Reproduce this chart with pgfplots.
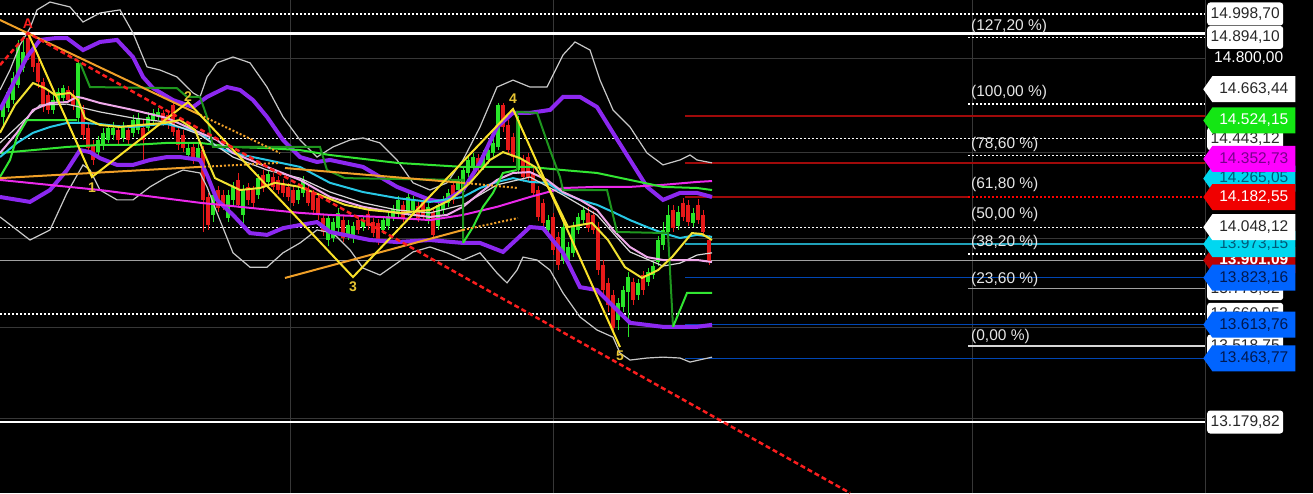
\documentclass[border=0pt]{standalone}
\usepackage{fontspec}
\setmainfont{Liberation Sans}
\usepackage{pgfplots}
\pgfplotsset{compat=1.18}
\usepackage{pgfplotstable}
\usetikzlibrary{shapes.symbols}

\definecolor{cpurple}{RGB}{140,40,240}
\definecolor{cband}{RGB}{200,200,200}
\definecolor{ccyan}{RGB}{40,200,230}
\definecolor{cpink}{RGB}{240,170,235}
\definecolor{clgray}{RGB}{215,215,215}
\definecolor{cmag}{RGB}{235,40,235}
\definecolor{clime}{RGB}{50,230,50}
\definecolor{cdkgreen}{RGB}{30,150,30}
\definecolor{cyel}{RGB}{240,225,50}
\definecolor{czig}{RGB}{250,225,40}
\definecolor{corange}{RGB}{240,160,40}
\definecolor{ctrend}{RGB}{250,30,30}
\definecolor{cgreen}{RGB}{40,230,40}
\definecolor{cred}{RGB}{230,25,25}
\definecolor{cdred}{RGB}{160,10,10}
\definecolor{cblue}{RGB}{0,70,180}
\definecolor{cgrid}{RGB}{55,55,55}
\definecolor{cgray}{RGB}{160,160,160}
\definecolor{cgold}{RGB}{230,195,50}
\definecolor{clbl}{RGB}{230,230,230}
\definecolor{bgreen}{RGB}{20,230,20}
\definecolor{bmag}{RGB}{255,0,255}
\definecolor{bmagtxt}{RGB}{120,0,140}
\definecolor{bcyan}{RGB}{0,215,240}
\definecolor{bcyantxt}{RGB}{0,90,120}
\definecolor{bred}{RGB}{240,0,0}
\definecolor{bdred}{RGB}{190,0,0}
\definecolor{bblue}{RGB}{0,100,255}
\definecolor{bbluetxt}{RGB}{0,25,80}
\definecolor{btxt}{RGB}{40,40,40}

% candles: x, body top, body bottom, wick top, wick bottom (prices)
\pgfplotstableread{
x bt bb wt wb
3 14593 14540 14615 14504
8 14651 14579 14668 14562
13 14713 14615 14740 14597
18 14861 14682 14883 14668
23 14829 14758 14900 14740
53 14615 14571 14638 14553
58 14651 14606 14668 14593
63 14668 14624 14682 14606
78 14781 14535 14794 14517
98 14437 14383 14455 14356
103 14469 14410 14490 14392
108 14490 14437 14508 14424
113 14490 14460 14517 14437
123 14490 14446 14517 14428
133 14526 14469 14549 14451
138 14535 14482 14558 14464
148 14540 14490 14562 14478
153 14558 14522 14575 14508
158 14562 14540 14579 14526
188 14401 14370 14424 14356
198 14401 14356 14419 14339
213 14192 14103 14214 14071
228 14192 14089 14214 14071
233 14228 14170 14250 14148
243 14214 14103 14237 14044
258 14267 14192 14285 14174
268 14285 14250 14303 14232
298 14214 14170 14232 14152
303 14259 14201 14276 14183
328 14089 13991 14107 13964
333 14071 14000 14089 13982
338 14112 14044 14134 14027
348 14058 14014 14080 13991
353 14053 14000 14071 13978
363 14080 14049 14098 14031
383 14080 14036 14098 14018
388 14098 14053 14116 14036
393 14130 14094 14148 14076
398 14170 14112 14188 14094
408 14183 14116 14201 14098
413 14170 14125 14188 14107
428 14139 14080 14157 14062
438 14148 14053 14170 14036
443 14170 14125 14188 14107
448 14201 14157 14219 14139
458 14259 14214 14276 14196
463 14303 14205 14321 14187
468 14348 14290 14365 14272
473 14361 14317 14379 14299
483 14370 14321 14392 14303
488 14392 14348 14410 14330
493 14424 14379 14446 14361
498 14593 14406 14602 14392
518 14526 14303 14544 14285
548 14080 14036 14103 14018
563 14049 13902 14071 13884
568 13960 13902 13982 13884
573 14049 13934 14071 13916
578 14094 14036 14112 14018
583 14125 14080 14143 14062
618 13711 13635 13732 13590
623 13768 13693 13786 13670
628 13826 13759 13848 13558
638 13800 13746 13817 13724
648 13848 13804 13866 13786
653 13875 13835 13893 13817
658 13991 13893 14009 13875
663 14036 13969 14071 13947
668 14103 14027 14148 14009
678 14116 14053 14143 14036
693 14112 14067 14134 14049
}\greencandles

\pgfplotstableread{
x bt bb wt wb
28 14891 14816 14914 14794
33 14838 14763 14861 14740
38 14781 14695 14802 14668
43 14695 14584 14713 14562
48 14638 14571 14660 14553
68 14660 14615 14677 14602
73 14638 14593 14660 14571
83 14571 14460 14593 14437
88 14490 14401 14517 14383
93 14415 14348 14437 14326
118 14482 14437 14499 14415
128 14482 14437 14499 14415
143 14490 14437 14526 14339
163 14558 14517 14571 14499
168 14549 14504 14567 14486
173 14593 14473 14615 14455
178 14482 14415 14499 14392
183 14460 14401 14482 14383
193 14406 14348 14424 14330
203 14392 14170 14410 14027
208 14183 14058 14201 14036
218 14214 14134 14232 14116
223 14192 14148 14214 14125
238 14259 14148 14290 14134
248 14228 14170 14246 14148
253 14214 14157 14232 14139
263 14281 14223 14303 14205
273 14272 14228 14290 14214
278 14259 14214 14276 14196
283 14246 14201 14263 14183
288 14228 14183 14246 14166
293 14214 14157 14232 14143
308 14214 14157 14232 14143
313 14201 14125 14214 14107
318 14178 14103 14201 14080
323 14089 14027 14107 14009
343 14080 14000 14103 13982
358 14080 14036 14098 14018
368 14107 14053 14125 14036
373 14071 14022 14089 14005
378 14067 13991 14085 13969
403 14148 14089 14166 14071
418 14143 14089 14161 14071
423 14170 14103 14188 14085
433 14116 14014 14134 14000
453 14237 14170 14254 14152
478 14356 14312 14374 14294
503 14593 14495 14602 14473
508 14504 14392 14526 14370
513 14451 14361 14469 14339
523 14348 14272 14370 14250
528 14361 14272 14379 14250
533 14290 14201 14312 14183
538 14214 14094 14232 14076
543 14157 14067 14174 14049
553 14094 13947 14112 13925
558 14005 13880 14027 13857
588 14112 14044 14139 14027
593 14103 14036 14121 14018
598 14049 13857 14071 13835
603 13880 13768 13902 13746
608 13800 13702 13822 13670
613 13746 13599 13768 13568
633 13804 13724 13822 13702
643 13835 13768 13853 13746
673 14125 14044 14148 14027
683 14157 14094 14178 14076
688 14148 14071 14170 14053
698 14148 14080 14174 14062
703 14103 14027 14125 14009
709 13991 13893 14014 13880
}\redcandles

\tikzset{
  lbl/.style={anchor=west, inner sep=0pt, font=\fontsize{15.5}{17}\selectfont, align=center},
  rbox/.style={lbl, fill=white, rounded corners=3pt, text=btxt, inner xsep=2pt, minimum width=76pt, minimum height=23pt},
  sbox/.style={lbl, shape=signal, signal to=west, signal pointer angle=110, minimum width=92pt, minimum height=26pt},
  wdot/.style={white, line width=1.4pt, dash pattern=on 2pt off 2pt},
}

\begin{document}
\begin{tikzpicture}[font=\fontsize{15.5}{17}\selectfont]
\begin{axis}[
  width=1313pt, height=493pt, scale only axis,
  xmin=0, xmax=1313, ymin=12863.3, ymax=15061.1,
  xtick=\empty, ytick=\empty,
  axis line style={draw=none},
  axis background/.style={fill=black},
  clip mode=individual,
]
% grid
\addplot[cgrid, line width=1pt] coordinates {(290,12863.3) (290,15061.1)};
\addplot[cgrid, line width=1pt] coordinates {(553,12863.3) (553,15061.1)};
\addplot[cgrid, line width=1pt] coordinates {(972,12863.3) (972,15061.1)};
\addplot[cgrid, line width=1pt] coordinates {(1205,12863.3) (1205,15061.1)};
\addplot[cgrid, line width=1pt] coordinates {(0,14800) (1205,14800)};
\addplot[cgrid, line width=1pt] coordinates {(0,14383) (1205,14383)};
\addplot[cgrid, line width=1pt] coordinates {(0,14000) (1205,14000)};
\addplot[cgrid, line width=1pt] coordinates {(0,13599) (1205,13599)};
\addplot[cgrid, line width=1pt] coordinates {(0,13197) (1205,13197)};
% horizontal levels
\addplot[wdot] coordinates {(0,14998.70) (1205,14998.70)};
\addplot[white, line width=3pt] coordinates {(0,14912) (1205,14912)};
\addplot[wdot] coordinates {(968,14894.10) (1205,14894.10)};
\addplot[wdot] coordinates {(968,14597) (1205,14597)};
\addplot[cdred, line width=1.5pt] coordinates {(685,14544) (1205,14544)};
\addplot[wdot] coordinates {(0,14443.12) (1205,14443.12)};
\addplot[wdot] coordinates {(968,14368) (1205,14368)};
\addplot[cdred, line width=1.5pt] coordinates {(685,14335) (1205,14335)};
\addplot[cdred, line width=1.5pt] coordinates {(685,14182.55) (968,14182.55)};
\addplot[red, line width=1.4pt, dash pattern=on 2pt off 2pt] coordinates {(968,14182.55) (1205,14182.55)};
\addplot[wdot] coordinates {(0,14048.12) (1205,14048.12)};
\addplot[ccyan!80!black, line width=1.5pt] coordinates {(685,13973.15) (1205,13973.15)};
\addplot[wdot] coordinates {(968,13929) (1205,13929)};
\addplot[cgray, line width=1.2pt] coordinates {(0,13901.09) (1205,13901.09)};
\addplot[cblue, line width=1.5pt] coordinates {(685,13823.16) (1205,13823.16)};
\addplot[cgray, line width=1.5pt] coordinates {(968,13773.92) (1205,13773.92)};
\addplot[wdot] coordinates {(0,13661) (1205,13661)};
\addplot[cblue, line width=1.5pt] coordinates {(685,13613.76) (1205,13613.76)};
\addplot[clgray, line width=1.5pt] coordinates {(968,13518.75) (1205,13518.75)};
\addplot[cblue, line width=1.5pt] coordinates {(685,13463.77) (1205,13463.77)};
\addplot[white, line width=1.2pt] coordinates {(0,13179.82) (1205,13179.82)};

% candles
\addplot[cgreen, line width=1pt, -, quiver={u=0, v=\thisrow{wb}-\thisrow{wt}}] table[x=x, y=wt] {\greencandles};
\addplot[cgreen, line width=4pt, -, quiver={u=0, v=\thisrow{bb}-\thisrow{bt}}] table[x=x, y=bt] {\greencandles};
\addplot[cred, line width=1pt, -, quiver={u=0, v=\thisrow{wb}-\thisrow{wt}}] table[x=x, y=wt] {\redcandles};
\addplot[cred, line width=4pt, -, quiver={u=0, v=\thisrow{bb}-\thisrow{bt}}] table[x=x, y=bt] {\redcandles};

% outer white bands
\addplot[cband, line width=1.2pt] coordinates {(0,14660) (10,14749) (20,14861) (30,14936) (37,15017) (50,15052) (70,15030) (83,14963) (100,15003) (120,15017) (133,14914) (147,14763) (160,14749) (177,14718) (193,14647) (200,14629) (207,14718) (217,14781) (233,14807) (250,14781) (267,14673) (283,14540) (300,14437) (317,14361) (333,14406) (350,14437) (363,14446) (380,14424) (397,14348) (413,14246) (430,14214) (447,14246) (463,14348) (480,14495) (497,14673) (513,14704) (530,14673) (547,14673) (563,14816) (575,14874) (590,14838) (600,14704) (613,14571) (630,14495) (647,14379) (663,14326) (680,14348) (690,14370) (697,14348) (712,14335)};
\addplot[cband, line width=1.2pt] coordinates {(0,14094) (30,13991) (50,14036) (67,14201) (83,14326) (90,14303) (100,14214) (117,14170) (133,14170) (150,14228) (167,14272) (183,14303) (200,14290) (207,14228) (217,14112) (233,13934) (250,13870) (267,13870) (283,13934) (300,13978) (317,14036) (333,14022) (350,13947) (363,13866) (380,13835) (397,13888) (413,13938) (430,13960) (447,13934) (463,13902) (480,13934) (497,13844) (507,13800) (517,13857) (523,13915) (537,13902) (550,13857) (563,13755) (580,13648) (597,13590) (613,13558) (620,13487) (630,13456) (647,13465) (663,13469) (680,13465) (690,13447) (712,13469)};
% purple bands
\addplot[cpurple, line width=4pt] coordinates {(0,14571) (15,14704) (27,14807) (40,14883) (55,14891) (67,14891) (83,14838) (100,14874) (117,14883) (133,14807) (143,14718) (153,14668) (173,14615) (193,14584) (207,14629) (227,14673) (240,14660) (253,14615) (267,14540) (283,14437) (300,14361) (317,14339) (330,14348) (363,14317) (397,14228) (430,14170) (443,14161) (463,14214) (480,14335) (497,14495) (513,14558) (530,14558) (550,14571) (563,14629) (580,14629) (597,14584) (613,14469) (630,14348) (647,14228) (663,14170) (680,14201) (697,14201) (712,14183)};
\addplot[cpurple, line width=4pt] coordinates {(0,14183) (30,14161) (50,14214) (67,14303) (80,14392) (90,14383) (100,14356) (117,14326) (133,14326) (150,14348) (167,14361) (180,14361) (200,14348) (207,14281) (217,14170) (233,14103) (250,14022) (267,14014) (283,14044) (300,14058) (317,14071) (330,14027) (370,13991) (397,13982) (430,13991) (463,13978) (480,13978) (503,13938) (530,14049) (543,14044) (563,13934) (580,13781) (597,13768) (617,13679) (630,13622) (663,13604) (697,13604) (712,13613)};
% long moving averages
\addplot[cmag, line width=2pt] coordinates {(0,14259) (100,14214) (200,14157) (300,14112) (330,14103) (380,14094) (430,14080) (463,14103) (497,14139) (530,14183) (563,14223) (597,14228) (630,14228) (663,14237) (697,14250) (712,14254)};
\addplot[clime, line width=2pt] coordinates {(0,14379) (33,14392) (67,14406) (100,14415) (133,14415) (167,14424) (200,14424) (233,14406) (267,14401) (300,14392) (330,14370) (397,14335) (463,14317) (530,14317) (563,14303) (597,14290) (630,14259) (663,14228) (697,14223) (712,14214)};
\addplot[ccyan, line width=2pt] coordinates {(0,14361) (17,14424) (33,14469) (50,14495) (67,14513) (83,14513) (100,14508) (117,14499) (133,14495) (150,14504) (167,14508) (183,14490) (200,14469) (217,14406) (233,14379) (267,14348) (300,14317) (330,14246) (363,14205) (397,14178) (430,14161) (463,14183) (480,14223) (497,14250) (513,14267) (530,14250) (547,14246) (563,14201) (580,14170) (597,14148) (613,14116) (630,14080) (647,14049) (663,14022) (680,14000) (697,14014) (712,14005)};
\addplot[clgray, line width=1.2pt] coordinates {(0,14424) (17,14495) (40,14593) (67,14597) (100,14562) (133,14535) (167,14517) (200,14460) (233,14361) (267,14303) (300,14267) (330,14205) (363,14157) (397,14125) (430,14112) (463,14148) (497,14237) (530,14272) (563,14192) (597,14103) (630,13938) (663,13875) (680,13888) (697,13924) (712,13934)};
\addplot[cpink, line width=2pt] coordinates {(0,14379) (17,14469) (33,14571) (50,14602) (67,14606) (77,14629) (83,14624) (100,14602) (133,14571) (167,14535) (200,14469) (217,14437) (233,14379) (267,14317) (300,14259) (330,14183) (363,14139) (397,14112) (430,14094) (447,14103) (463,14139) (480,14201) (497,14259) (513,14290) (530,14294) (547,14259) (563,14205) (580,14170) (597,14125) (613,14036) (630,13960) (647,13915) (663,13902) (680,13902) (697,13902) (712,13893)};
% step lines
\addplot[clime, line width=2pt] coordinates {(0,14272) (10,14348) (17,14451) (27,14526) (77,14526)};
\addplot[cdkgreen, line width=2pt] coordinates {(80,14781) (90,14673) (177,14668) (187,14629) (200,14629) (207,14540) (213,14406) (320,14406) (327,14303) (345,14267) (463,14259) (463,13978)};
\addplot[clime, line width=2pt] coordinates {(463,13978) (473,14049) (483,14139) (493,14201) (503,14290) (517,14303)};
\addplot[cdkgreen, line width=2pt] coordinates {(517,14303) (517,14562) (537,14558) (550,14392) (560,14272) (563,14214) (607,14214) (617,14027) (668,14022) (673,13604)};
\addplot[clime, line width=2pt] coordinates {(673,13604) (687,13755) (712,13755)};
% yellow moving average
\addplot[cyel, line width=2pt] coordinates {(0,14469) (15,14593) (33,14691) (45,14668) (55,14638) (70,14647) (78,14615) (85,14535) (100,14504) (120,14495) (140,14504) (165,14513) (180,14526) (195,14482) (205,14370) (215,14267) (240,14214) (260,14223) (275,14246) (300,14228) (320,14192) (345,14148) (370,14125) (400,14112) (430,14125) (450,14170) (470,14246) (490,14348) (503,14383) (520,14356) (535,14317) (550,14214) (568,14049) (580,14058) (592,14067) (608,13991) (625,13870) (642,13822) (658,13857) (672,13915) (692,14022) (702,14018) (712,13991)};
% orange trend lines
\addplot[corange, line width=2pt] coordinates {(0,14972) (200,14549)};
\addplot[corange, line width=2pt, dash pattern=on 2pt off 2pt] coordinates {(200,14549) (280,14379)};
\addplot[corange, line width=2pt] coordinates {(0,14267) (200,14317)};
\addplot[corange, line width=2pt, dash pattern=on 2pt off 2pt] coordinates {(200,14317) (280,14335)};
\addplot[corange, line width=2pt] coordinates {(285,14312) (463,14246)};
\addplot[corange, line width=2pt, dash pattern=on 2pt off 2pt] coordinates {(463,14246) (518,14223)};
\addplot[corange, line width=2pt] coordinates {(285,13822) (463,14036)};
\addplot[corange, line width=2pt, dash pattern=on 2pt off 2pt] coordinates {(463,14036) (518,14089)};
% wave zigzag
\addplot[czig, line width=2pt] coordinates {(28,14914) (92,14272) (188,14606) (353,13826) (513,14575) (620,13514)};
% red trend
\addplot[ctrend, line width=2.5pt, dash pattern=on 5pt off 3pt] coordinates {(0,14771) (28,14914) (850,12863.3)};

% wave labels
\node[text=ctrend, font=\bfseries\fontsize{14}{16}\selectfont] at (axis cs:28,14955) {A};
\node[text=cgold, font=\bfseries\fontsize{14}{16}\selectfont] at (axis cs:92,14223) {1};
\node[text=cgold, font=\bfseries\fontsize{14}{16}\selectfont] at (axis cs:188,14629) {2};
\node[text=cgold, font=\bfseries\fontsize{14}{16}\selectfont] at (axis cs:353,13781) {3};
\node[text=cgold, font=\bfseries\fontsize{14}{16}\selectfont] at (axis cs:513,14620) {4};
\node[text=cgold, font=\bfseries\fontsize{14}{16}\selectfont] at (axis cs:620,13474) {5};

% fibonacci labels
\node[lbl, text=clbl] at (axis cs:971,14945) {(127,20 \%)};
\node[lbl, text=clbl] at (axis cs:971,14647) {(100,00 \%)};
\node[lbl, text=clbl] at (axis cs:971,14415) {(78,60 \%)};
\node[lbl, text=clbl] at (axis cs:971,14237) {(61,80 \%)};
\node[lbl, text=clbl] at (axis cs:971,14107) {(50,00 \%)};
\node[lbl, text=clbl] at (axis cs:971,13982) {(38,20 \%)};
\node[lbl, text=clbl] at (axis cs:971,13817) {(23,60 \%)};
\node[lbl, text=clbl] at (axis cs:971,13563) {(0,00 \%)};

% price labels (partly hidden ones first, as in the platform)
\node[rbox] at (axis cs:1207,14443.12) {14.443,12};
\node[sbox, fill=bcyan, text=bcyantxt] at (axis cs:1203,14265.05) {14.265,05};
\node[sbox, fill=bdred, text=white, font=\bfseries\fontsize{15.5}{17}\selectfont] at (axis cs:1203,13901.09) {13.901,09};
\node[rbox] at (axis cs:1207,13773.92) {13.773,92};
\node[rbox] at (axis cs:1207,13660.05) {13.660,05};
\node[rbox] at (axis cs:1207,13518.75) {13.518,75};
\node[sbox, fill=bcyan, text=bcyantxt] at (axis cs:1203,13973.15) {13.973,15};

\node[rbox] at (axis cs:1207,14998.70) {14.998,70};
\node[rbox] at (axis cs:1207,14894.10) {14.894,10};
\node[lbl, text=white] at (axis cs:1214,14800) {14.800,00};
\node[sbox, fill=white, text=btxt] at (axis cs:1203,14663.44) {14.663,44};
\node[sbox, fill=bgreen, text=white] at (axis cs:1203,14524.15) {14.524,15};
\node[sbox, fill=bmag, text=bmagtxt] at (axis cs:1203,14352.73) {14.352,73};
\node[sbox, fill=bred, text=white] at (axis cs:1203,14182.55) {14.182,55};
\node[sbox, fill=white, text=btxt] at (axis cs:1203,14048.12) {14.048,12};
\node[sbox, fill=bblue, text=bbluetxt] at (axis cs:1203,13823.16) {13.823,16};
\node[sbox, fill=bblue, text=bbluetxt] at (axis cs:1203,13613.76) {13.613,76};
\node[sbox, fill=bblue, text=bbluetxt] at (axis cs:1203,13463.77) {13.463,77};
\node[rbox] at (axis cs:1207,13179.82) {13.179,82};
\end{axis}
\end{tikzpicture}
\end{document}
